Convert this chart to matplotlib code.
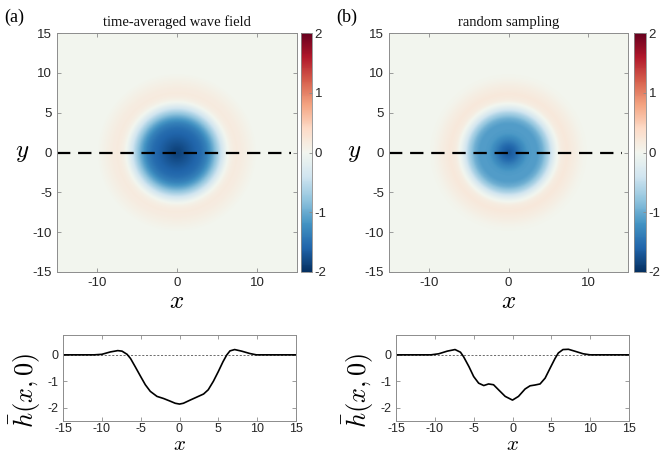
import numpy as np
import matplotlib.pyplot as plt
import matplotlib as mpl
from matplotlib.colors import LinearSegmentedColormap

mpl.rcParams['font.family'] = ['Liberation Sans', 'DejaVu Sans']
mpl.rcParams['mathtext.fontset'] = 'cm'
mpl.rcParams['axes.unicode_minus'] = False

# ---------------- data ----------------
# cross-section h(x, 0), panel (a): time-averaged wave field
x_a = [-15, -11, -10, -8.9, -7.95, -7.4, -6.75, -6.3, -5.7, -5.0, -4.4,
       -3.76, -2.9, -2.05, -1.2, -0.55, 0, 0.5, 1.37, 2.2, 3.1, 3.7, 4.36,
       5.0, 5.6, 6.07, 6.5, 7.1, 8.0, 9.06, 9.9, 11, 15]
h_a = [0, 0, 0.02, 0.11, 0.16, 0.14, 0.02, -0.14, -0.45, -0.82, -1.13,
       -1.38, -1.57, -1.65, -1.75, -1.83, -1.86, -1.83, -1.71, -1.60, -1.48,
       -1.32, -1.0, -0.63, -0.26, -0.01, 0.15, 0.2, 0.14, 0.05, 0, 0, 0]

# cross-section h(x, 0), panel (b): random sampling
x_b = [-15, -10.5, -9.5, -8.4, -7.4, -6.7, -6.3, -5.6, -5.0, -4.36, -3.7,
       -3.08, -2.44, -1.8, -0.94, 0, 0.77, 1.62, 2.26, 2.9, 3.55, 4.2,
       4.83, 5.47, 5.9, 6.5, 7.2, 8.0, 9.1, 10, 15]
h_b = [0, 0, 0.04, 0.14, 0.2, 0.1, -0.07, -0.45, -0.82, -1.07, -1.16,
       -1.1, -1.13, -1.32, -1.57, -1.71, -1.57, -1.29, -1.17, -1.14, -1.1,
       -0.88, -0.51, -0.14, 0.07, 0.2, 0.21, 0.14, 0.04, 0, 0]

titles = ['time-averaged wave field', 'random sampling']
tags = ['(a)', '(b)']
cbar_ticks = [-2, -1, 0, 1, 2]

# colormap: RdBu with a faintly green centre as in the original
base = plt.get_cmap('RdBu_r')
cols = [base(v) for v in np.linspace(0, 1, 11)]
cols[5] = '#f2f6ef'
cmap = LinearSegmentedColormap.from_list('rdbu_g', cols, N=256)

W, H = 662, 455
fig = plt.figure(figsize=(W / 100, H / 100), dpi=100)

def frac(l, t, r, b):
    return [l / W, 1 - b / H, (r - l) / W, (b - t) / H]

GRAY = '#8c8c8c'
TXT = '#262626'

def style(ax):
    for s in ax.spines.values():
        s.set_color(GRAY)
        s.set_linewidth(0.7)
    ax.tick_params(direction='in', top=True, right=True, length=3,
                   width=0.6, color=GRAY, labelcolor=TXT, labelsize=9.5)

heat_boxes = [(57, 33, 297, 272), (389, 33, 628, 272)]
cbar_boxes = [(301, 33, 312, 272), (634, 33, 646, 272)]
line_boxes = [(63, 335, 296, 421), (396, 335, 629, 421)]

grid = np.linspace(-15, 15, 401)
X, Y = np.meshgrid(grid, grid)
R = np.sqrt(X ** 2 + Y ** 2)

for i, (xs, hs) in enumerate([(x_a, h_a), (x_b, h_b)]):
    # radially symmetric field built from the measured cross-section
    field = 0.5 * (np.interp(R, xs, hs) + np.interp(-R, xs, hs))

    ax = fig.add_axes(frac(*heat_boxes[i]))
    im = ax.imshow(field, extent=[-15, 15, -15, 15], origin='lower',
                   cmap=cmap, vmin=-2, vmax=2, aspect='auto',
                   interpolation='bilinear')
    ax.plot([-15, 14.2], [0, 0], color='k', lw=1.6, dashes=(6, 3.5))
    ax.set_xlim(-15, 15)
    ax.set_ylim(-15, 15)
    ax.set_xticks([-10, 0, 10])
    ax.set_yticks([-15, -10, -5, 0, 5, 10, 15])
    style(ax)
    ax.set_xlabel('$x$', fontsize=18, labelpad=0)
    ax.set_ylabel('$y$', fontsize=18, rotation=0, labelpad=8, va='center')
    ax.set_title(titles[i], family='Liberation Serif', fontsize=10.5,
                 color='#111111', pad=5)
    fig.text(heat_boxes[i][0] / W - 0.08, 1 - 17 / H, tags[i],
             family='Liberation Serif', fontsize=13, va='center')

    cax = fig.add_axes(frac(*cbar_boxes[i]))
    cb = fig.colorbar(im, cax=cax, ticks=cbar_ticks)
    cb.outline.set_edgecolor(GRAY)
    cb.outline.set_linewidth(0.6)
    cax.tick_params(direction='in', length=2, width=0.6, color=GRAY,
                    labelcolor=TXT, labelsize=9.5, pad=2)

    bx = fig.add_axes(frac(*line_boxes[i]))
    bx.axhline(0, color='#555555', lw=0.6, ls=(0, (2.5, 2)))
    bx.plot(xs, hs, color='k', lw=1.2)
    bx.set_xlim(-15, 15)
    bx.set_ylim(-2.5, 0.75)
    bx.set_xticks([-15, -10, -5, 0, 5, 10, 15])
    bx.set_yticks([-2, -1, 0])
    style(bx)
    bx.tick_params(labelsize=9)
    bx.tick_params(axis='x', pad=1.5)
    bx.set_xlabel('$x$', fontsize=15, labelpad=0)
    bx.set_ylabel(r'$\bar{h}(x,0)$', fontsize=19)
    bx.yaxis.set_label_coords(-0.085, 0.36)

fig.savefig('out.png', dpi=100)
